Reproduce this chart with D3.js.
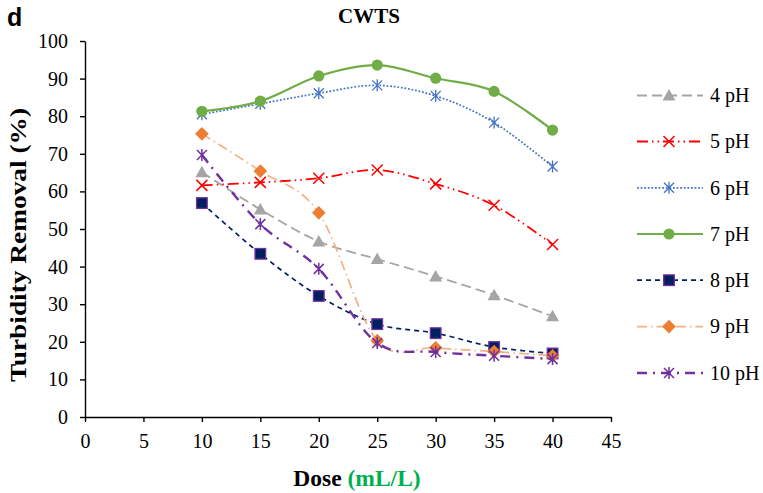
<!DOCTYPE html>
<html><head><meta charset="utf-8">
<script src="https://cdn.jsdelivr.net/npm/d3@7"></script>
<style>body{margin:0;background:#fff}svg{display:block}</style>
</head><body>
<script>
const doses = [10, 15, 20, 25, 30, 35, 40];
const ph4 = [65.1, 55.2, 46.7, 42.0, 37.4, 32.4, 26.8];
const ph5 = [61.6, 62.4, 63.5, 65.7, 62.0, 56.3, 45.9];
const ph6 = [80.5, 83.3, 86.1, 88.2, 85.4, 78.3, 66.6];
const ph7 = [81.3, 84.0, 90.7, 93.6, 90.1, 86.6, 76.3];
const ph8 = [56.9, 43.4, 32.2, 24.7, 22.3, 18.6, 16.9];
const ph9 = [75.3, 65.4, 54.3, 20.3, 18.4, 17.4, 16.3];
const ph10 = [69.7, 51.3, 39.4, 19.7, 17.3, 16.3, 15.4];
const seriesNames = ["4 pH", "5 pH", "6 pH", "7 pH", "8 pH", "9 pH", "10 pH"];
const xTicks = [0, 5, 10, 15, 20, 25, 30, 35, 40, 45];
const yTicks = [0, 10, 20, 30, 40, 50, 60, 70, 80, 90, 100];

const styles = [
  {line: "#A5A5A5", dash: "10,5", w: 1.8, marker: "tri", fill: "#A5A5A5", stroke: "#A5A5A5"},
  {line: "#FF0000", dash: "11,4,1.5,4,1.5,4", w: 1.8, marker: "x", fill: "none", stroke: "#FF0000"},
  {line: "#4472C4", dash: "1.8,1.8", w: 1.7, marker: "star", fill: "none", stroke: "#4472C4"},
  {line: "#70AD47", dash: null, w: 2.2, marker: "circle", fill: "#70AD47", stroke: "#70AD47"},
  {line: "#002060", dash: "5,4", w: 1.7, marker: "square", fill: "#002060", stroke: "#7030A0"},
  {line: "#F4B183", dash: "10,4,1.5,4", w: 1.7, marker: "diamond", fill: "#ED7D31", stroke: "#ED7D31"},
  {line: "#7030A0", dash: "10,6,2,6", w: 2.4, marker: "xstar", fill: "none", stroke: "#7030A0"}
];
const allSeries = [ph4, ph5, ph6, ph7, ph8, ph9, ph10];

const W = 763, H = 493;
const svg = d3.select("body").append("svg").attr("width", W).attr("height", H);
const x = d3.scaleLinear().domain([0, 45]).range([85, 611]);
const y = d3.scaleLinear().domain([0, 100]).range([417, 41]);

const serif = "'Liberation Serif','Times New Roman',serif";

// axes
const gx = svg.append("g").attr("transform", "translate(0,417)")
  .call(d3.axisBottom(x).tickValues(xTicks).tickSize(5).tickSizeOuter(0));
const gy = svg.append("g").attr("transform", "translate(85,0)")
  .call(d3.axisLeft(y).tickValues(yTicks).tickSize(5).tickPadding(12).tickSizeOuter(0));
[gx, gy].forEach(g => {
  g.select(".domain").attr("stroke", "#000").attr("stroke-width", 1.4);
  g.selectAll(".tick line").attr("stroke", "#000").attr("stroke-width", 1.4);
  g.selectAll("text").attr("font-family", serif).attr("font-size", 20).attr("fill", "#000");
});
gx.selectAll("text").attr("y", 31).attr("dy", 0);

function markerPath(sel, type, st) {
  const s = sel;
  if (type === "tri") {
    s.append("path").attr("d", "M0,-6.5L6.5,5L-6.5,5Z").attr("fill", st.fill);
  } else if (type === "circle") {
    s.append("circle").attr("r", 5.6).attr("fill", st.fill);
  } else if (type === "square") {
    s.append("rect").attr("x", -5.3).attr("y", -5.3).attr("width", 10.6).attr("height", 10.6)
      .attr("fill", st.fill).attr("stroke", st.stroke).attr("stroke-width", 1.3);
  } else if (type === "diamond") {
    s.append("path").attr("d", "M0,-6.8L6.8,0L0,6.8L-6.8,0Z").attr("fill", st.fill);
  } else if (type === "x") {
    s.append("path").attr("d", "M-5.5,-5.5L5.5,5.5M-5.5,5.5L5.5,-5.5").attr("stroke", st.stroke).attr("stroke-width", 1.5).attr("fill", "none");
  } else if (type === "star") {
    s.append("path").attr("d", "M-5,-5L5,5M-5,5L5,-5M0,-6L0,6").attr("stroke", st.stroke).attr("stroke-width", 1.3).attr("fill", "none");
  } else if (type === "xstar") {
    s.append("path").attr("d", "M-5,-5L5,5M-5,5L5,-5M0,-6L0,6").attr("stroke", st.stroke).attr("stroke-width", 1.5).attr("fill", "none");
  }
}

const line = d3.line().x(d => x(d[0])).y(d => y(d[1])).curve(d3.curveCardinal.tension(0));

const plot = svg.append("g");
allSeries.forEach((vals, i) => {
  const st = styles[i];
  const pts = doses.map((d, j) => [d, vals[j]]);
  const g = plot.append("g");
  g.append("path").attr("d", line(pts)).attr("fill", "none").attr("stroke", st.line)
    .attr("stroke-width", st.w).attr("stroke-dasharray", st.dash);
  pts.forEach(p => {
    const m = g.append("g").attr("transform", `translate(${x(p[0])},${y(p[1])})`);
    markerPath(m, st.marker, st);
  });
});

// legend
const legRows = [95.5, 141.5, 187.8, 234, 280.2, 326.6, 373];
seriesNames.forEach((name, i) => {
  const st = styles[i];
  const g = svg.append("g").attr("transform", `translate(0,${legRows[i]})`);
  g.append("line").attr("x1", 637).attr("x2", 703).attr("y1", 0).attr("y2", 0)
    .attr("stroke", st.line).attr("stroke-width", st.w).attr("stroke-dasharray", st.dash);
  const m = g.append("g").attr("transform", "translate(669,0)");
  markerPath(m, st.marker, st);
  g.append("text").attr("x", 710).attr("y", 0).attr("dy", "0.34em")
    .attr("font-family", serif).attr("font-size", 20).text(name);
});

// titles
svg.append("text").attr("x", 7).attr("y", 26).attr("font-family", "'Liberation Sans',Arial,sans-serif")
  .attr("font-weight", "bold").attr("font-size", 25).text("d");
svg.append("text").attr("x", 369).attr("y", 23).attr("text-anchor", "middle").attr("font-family", serif)
  .attr("font-weight", "bold").attr("font-size", 21).text("CWTS");
svg.append("text").attr("transform", "translate(26,245) rotate(-90)").attr("text-anchor", "middle")
  .attr("font-family", serif).attr("font-weight", "bold").attr("font-size", 23.5)
  .attr("textLength", 274).attr("lengthAdjust", "spacingAndGlyphs").text("Turbidity Removal (%)");
const xl = svg.append("text").attr("x", 357).attr("y", 485.5).attr("text-anchor", "middle")
  .attr("font-family", serif).attr("font-weight", "bold").attr("font-size", 23.5);
xl.append("tspan").attr("fill", "#000").text("Dose ");
xl.append("tspan").attr("fill", "#00B050").text("(mL/L)");
</script>
</body></html>
